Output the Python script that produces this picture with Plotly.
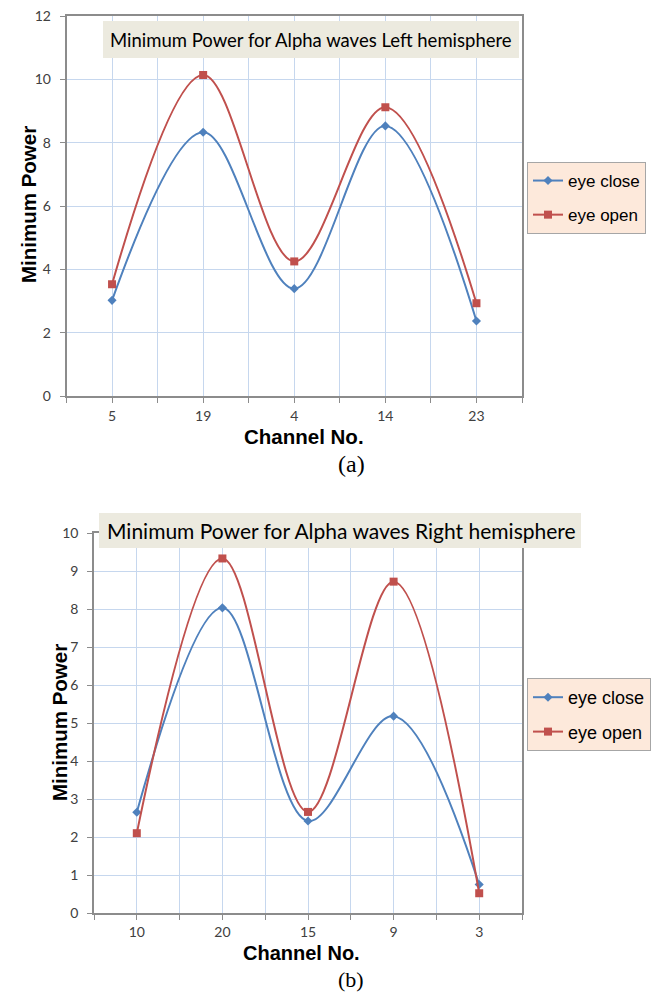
import plotly.graph_objects as go

# ---------------- data ----------------
left_channels = ["5", "19", "4", "14", "23"]
left_eye_close = [3.02, 8.33, 3.39, 8.53, 2.37]
left_eye_open = [3.53, 10.14, 4.25, 9.12, 2.93]

right_channels = ["10", "20", "15", "9", "3"]
right_eye_close = [2.65, 8.03, 2.42, 5.18, 0.75]
right_eye_open = [2.10, 9.33, 2.66, 8.72, 0.52]

series_names = ["eye close", "eye open"]
title_left = "Minimum Power for Alpha waves Left hemisphere"
title_right = "Minimum Power for Alpha waves Right hemisphere"
y_title = "Minimum Power"
x_title = "Channel No."

W, H = 654, 994
BLUE = "#4F81BD"
RED = "#C0504D"
GRID = "#C6D7EE"
AXIS = "#8C8C8C"
TICKFONT = dict(family="Lato, Open Sans, sans-serif", size=14, color="#404040")


def px(x):
    return x / W


def py(y):
    return 1 - y / H


fig = go.Figure()


def add_series(xref, yref, legend, cats, close, openv):
    idx = list(range(len(cats)))
    fig.add_trace(go.Scatter(
        x=idx, y=close, name=series_names[0], xaxis=xref, yaxis=yref,
        mode="lines+markers", line=dict(color=BLUE, width=2, shape="spline", smoothing=1.0),
        marker=dict(symbol="diamond", size=7, color=BLUE),
        legend=legend, legendgroup=legend + "a"))
    fig.add_trace(go.Scatter(
        x=idx, y=openv, name=series_names[1], xaxis=xref, yaxis=yref,
        mode="lines+markers", line=dict(color=RED, width=2, shape="spline", smoothing=1.0),
        marker=dict(symbol="square", size=8, color=RED),
        legend=legend, legendgroup=legend + "b"))


add_series("x", "y", "legend", left_channels, left_eye_close, left_eye_open)
add_series("x2", "y2", "legend2", right_channels, right_eye_close, right_eye_open)


def xaxis_cfg(cats, domain, anchor, standoff):
    return dict(
        domain=domain, anchor=anchor, range=[-0.5, len(cats) - 0.5],
        tickvals=list(range(len(cats))), ticktext=cats, ticks="",
        showgrid=True, gridcolor=GRID, gridwidth=1,
        minor=dict(dtick=0.5, tick0=-0.5, showgrid=True, gridcolor=GRID, gridwidth=1,
                   ticks="outside", ticklen=5, tickcolor=AXIS),
        showline=True, linecolor=AXIS, linewidth=1.5, mirror=True,
        tickfont=TICKFONT, ticklabelstandoff=standoff, zeroline=False, fixedrange=True,
        automargin=False)


def yaxis_cfg(domain, anchor, top, dtick):
    return dict(
        domain=domain, anchor=anchor, range=[0, top], dtick=dtick,
        ticks="outside", ticklen=5, tickcolor=AXIS,
        showgrid=True, gridcolor=GRID, gridwidth=1,
        showline=True, linecolor=AXIS, linewidth=1.5, mirror=True,
        tickfont=TICKFONT, ticklabelstandoff=6, zeroline=False, fixedrange=True,
        automargin=False)


fig.update_layout(
    width=W, height=H, margin=dict(l=0, r=0, t=0, b=0, autoexpand=False),
    paper_bgcolor="white", plot_bgcolor="white",
    xaxis=xaxis_cfg(left_channels, [px(66.5), px(522)], "y", 6),
    yaxis=yaxis_cfg([py(396), py(16)], "x", 12, 2),
    xaxis2=xaxis_cfg(right_channels, [px(94), px(522)], "y2", 5),
    yaxis2=yaxis_cfg([py(913), py(533)], "x2", 10, 1),
    legend=dict(x=px(527), y=py(162), xanchor="left", yanchor="top",
                bgcolor="#FDE9DB", bordercolor="#A6A6A6", borderwidth=1,
                font=dict(family="Liberation Sans, Arial", size=17, color="black"),
                tracegroupgap=9, itemwidth=30),
    legend2=dict(x=px(527), y=py(678), xanchor="left", yanchor="top",
                 bgcolor="#FDE9DB", bordercolor="#A6A6A6", borderwidth=1,
                 font=dict(family="Liberation Sans, Arial", size=18, color="black"),
                 tracegroupgap=8, itemwidth=30),
    showlegend=True,
)

# chart title boxes
fig.add_shape(type="rect", xref="paper", yref="paper",
              x0=px(103), x1=px(519), y0=py(58), y1=py(21),
              fillcolor="#ECEADF", line=dict(width=0), layer="above")
fig.add_annotation(x=px(311), y=py(39.5), xref="paper", yref="paper",
                   xanchor="center", yanchor="middle",
                   text=title_left, showarrow=False,
                   font=dict(family="Lato, sans-serif", size=18.5, color="black"))
fig.add_shape(type="rect", xref="paper", yref="paper",
              x0=px(99), x1=px(581), y0=py(548), y1=py(513),
              fillcolor="#ECEADF", line=dict(width=0), layer="above")
fig.add_annotation(x=px(341), y=py(530.5), xref="paper", yref="paper",
                   xanchor="center", yanchor="middle",
                   text=title_right, showarrow=False,
                   font=dict(family="Lato, sans-serif", size=21, color="black"))

# axis titles
AXT = dict(family="Liberation Sans, Arial", size=20.5, color="black")
C = dict(xref="paper", yref="paper", xanchor="center", yanchor="middle", showarrow=False)
fig.add_annotation(x=px(29), y=py(205), text="<b>%s</b>" % y_title, textangle=-90, font=AXT, **C)
fig.add_annotation(x=px(59), y=py(723), text="<b>%s</b>" % y_title, textangle=-90, font=AXT, **C)
fig.add_annotation(x=px(304), y=py(436), text="<b>%s</b>" % x_title, font=AXT, **C)
fig.add_annotation(x=px(301), y=py(953), text="<b>%s</b>" % x_title,
                   font=dict(AXT, size=20), **C)

# sub-figure captions
CAP = dict(family="Liberation Serif, Times New Roman, serif", size=24, color="black")
fig.add_annotation(x=px(352), y=py(464), text="(a)", font=CAP, **C)
fig.add_annotation(x=px(351), y=py(979), text="(b)", font=dict(CAP, size=22), **C)

fig.write_html("out.html", config={"displayModeBar": False},
               post_script="document.body.style.margin='0';")
